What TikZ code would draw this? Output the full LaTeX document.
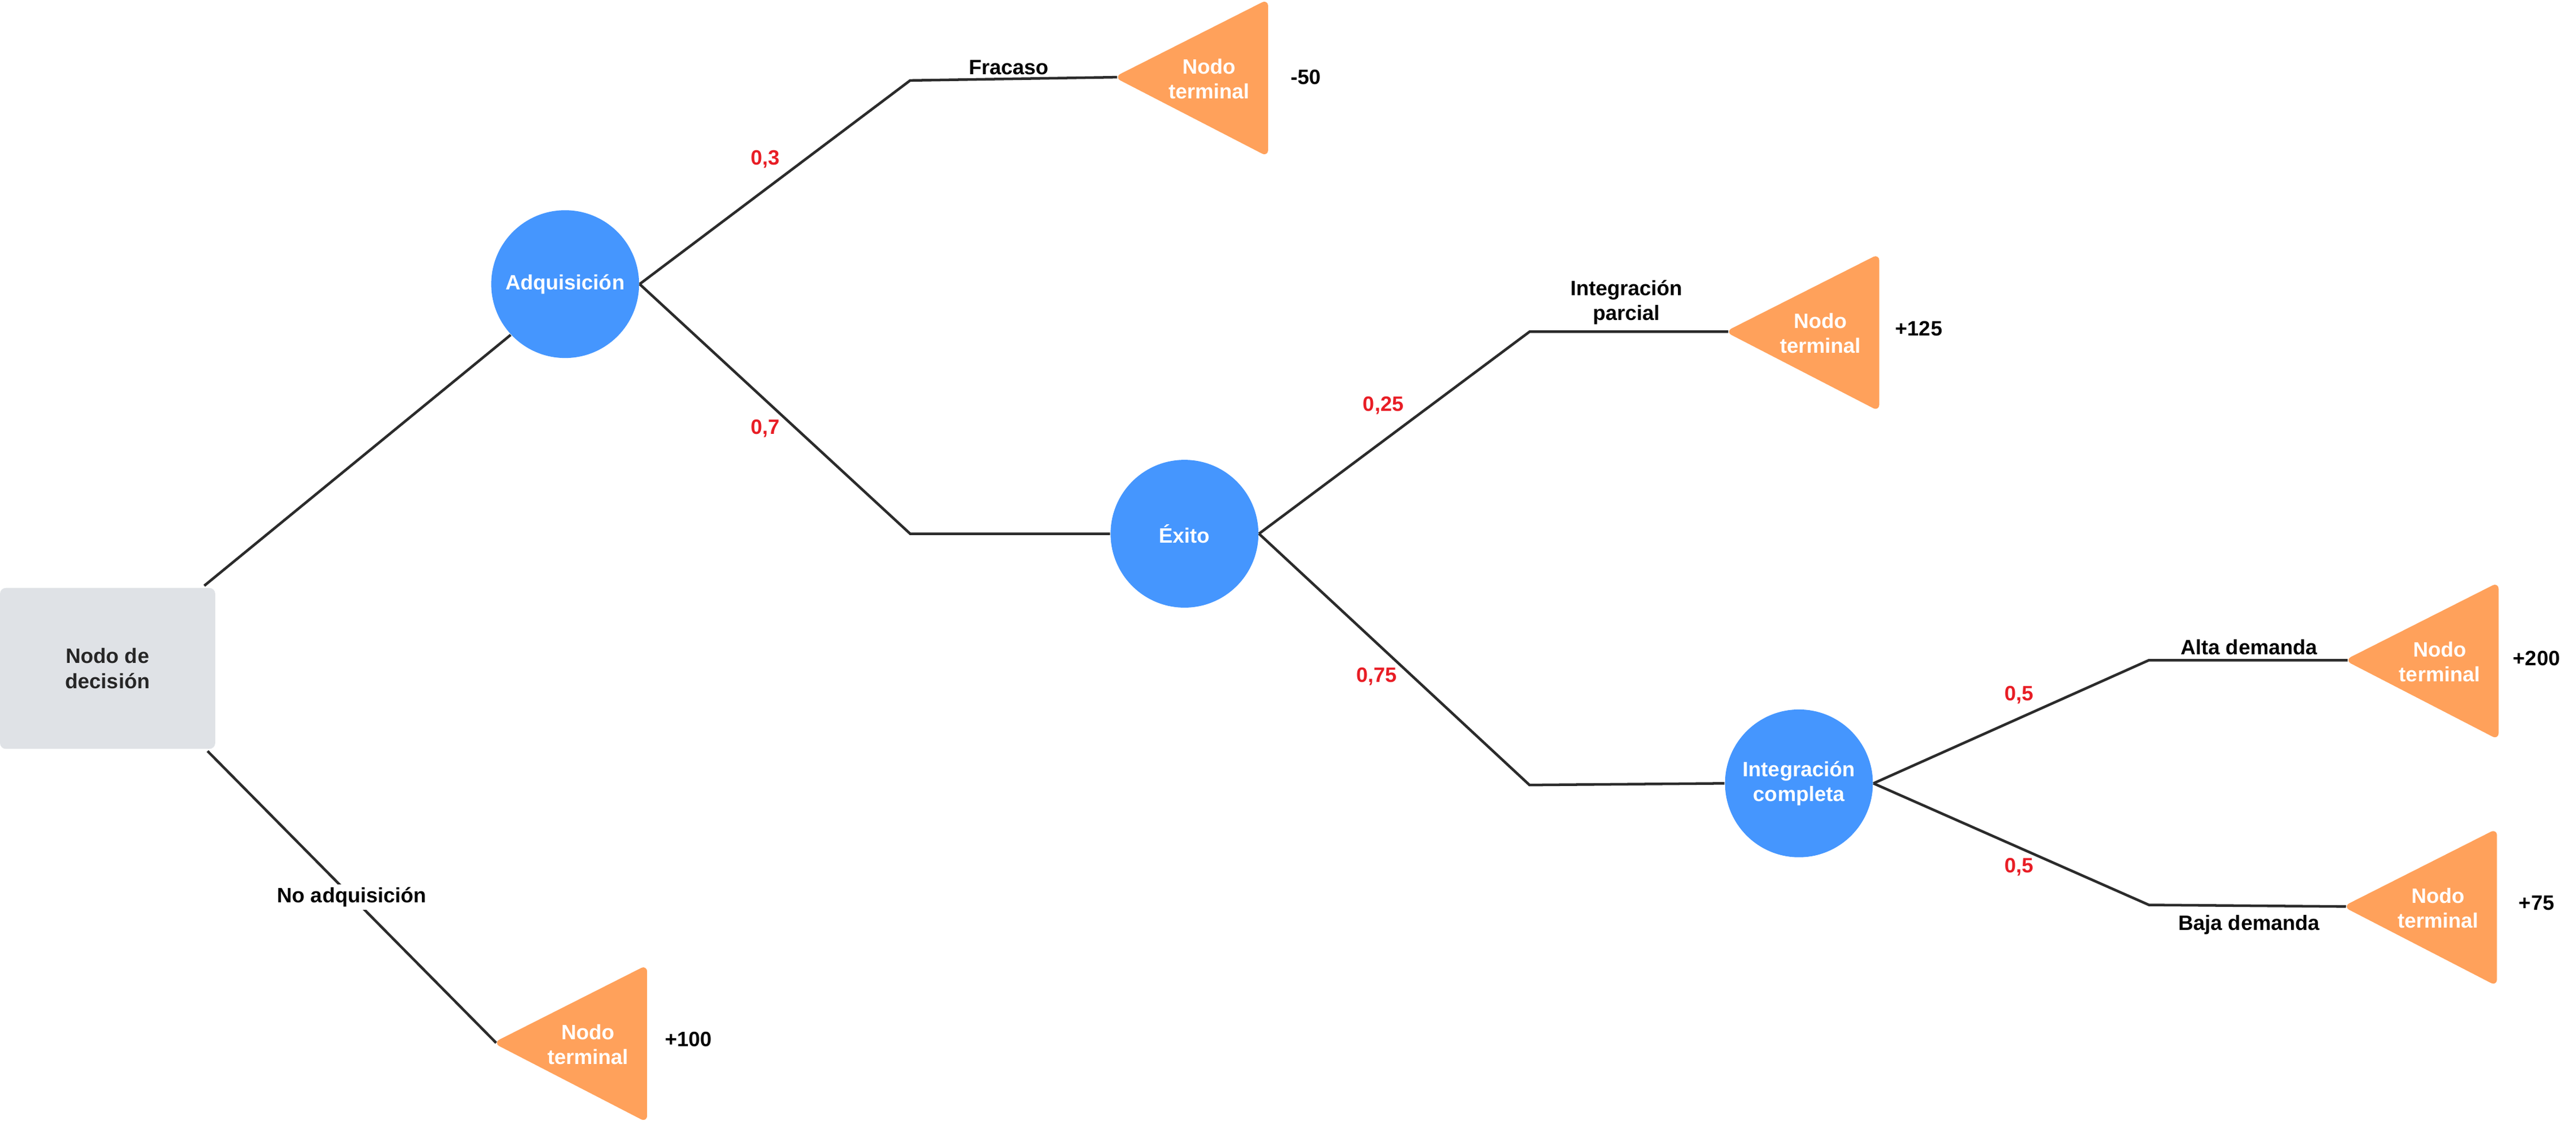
\documentclass[tikz,border=0pt]{standalone}
\usepackage{fontspec}
\setmainfont{Liberation Sans}
\begin{document}
\definecolor{cblue}{HTML}{4596FE}
\definecolor{corange}{HTML}{FFA15B}
\definecolor{cgray}{HTML}{DFE2E6}
\definecolor{cred}{HTML}{E81D25}
\definecolor{cline}{HTML}{2B2B2B}
\begin{tikzpicture}[x=0.02cm,y=-0.02cm,
  every node/.style={font=\fontsize{7.2}{8.6}\selectfont\bfseries},
  chance/.style={circle,fill=cblue,minimum size=1.8cm,inner sep=0pt,text=white,align=center},
  lbl/.style={text=black,align=center,inner sep=1pt},
  prob/.style={text=cred},
  val/.style={text=black},
  edge/.style={draw=cline,line width=0.9pt},
  term/.style={fill=corange,draw=corange,line width=1pt,rounded corners=1.5pt,line join=round}]
\useasboundingbox (0,0) rectangle (1568,685);
% terminals
\newcommand{\terminal}[3]{%
  \path[term] (#1,#2) -- (#1+91,#2-46) -- (#1+91,#2+47) -- cycle;
  \node[text=white,align=center] (#3) at (#1+56,#2+1) {Nodo\\terminal};
  \coordinate (#3tip) at (#1,#2);}
\terminal{680}{47}{t1}
\terminal{1052}{202}{t2}
\terminal{1429}{402}{t3}
\terminal{1428}{552}{t4}
\terminal{302}{635}{t5}
\node[val] at (795,47) {-50};
\node[val] at (1168,200) {+125};
\node[val] at (1544,401) {+200};
\node[val] at (1544,550) {+75};
\node[val] at (419,633) {+100};
% decision
\node[fill=cgray,rounded corners=2pt,minimum width=2.62cm,minimum height=1.96cm,align=center,text=black!85] (dec) at (65.5,407) {Nodo de\\decisión};
\node[chance] (adq) at (344,173) {Adquisición};
\node[chance] (exi) at (721,325) {Éxito};
\node[chance] (ic) at (1095,477) {Integración\\completa};
\coordinate (a1) at (554,49);
\coordinate (a2) at (554,325);
\coordinate (e1) at (931,202);
\coordinate (e2) at (931,478);
\coordinate (i1) at (1308,402);
\coordinate (i2) at (1308,551);
\draw[edge] (dec.north east) ++(-7,-1) coordinate (d0) (d0) -- (adq.223);
\draw[edge] (adq.east) -- (a1) -- (t1tip);
\draw[edge] (adq.east) -- (a2) -- (exi.west);
\draw[edge] (exi.east) -- (e1) -- (t2tip);
\draw[edge] (exi.east) -- (e2) -- (ic.west);
\draw[edge] (ic.east) -- (i1) -- (t3tip);
\draw[edge] (ic.east) -- (i2) -- (t4tip);
\draw[edge] (dec.south east) ++(-5,1) coordinate (d1) (d1) -- node[lbl,fill=white,pos=0.5] {No adquisición} (t5tip);
% labels
\node[lbl] at (614,41) {Fracaso};
\node[lbl] at (990,184) {Integración\\parcial};
\node[lbl] at (1369,394) {Alta demanda};
\node[lbl] at (1369,563) {Baja demanda};
\node[prob] at (466,97) {0,3};
\node[prob] at (466,261) {0,7};
\node[prob] at (842,247) {0,25};
\node[prob] at (838,412) {0,75};
\node[prob] at (1229,423) {0,5};
\node[prob] at (1229,528) {0,5};
\end{tikzpicture}
\end{document}
